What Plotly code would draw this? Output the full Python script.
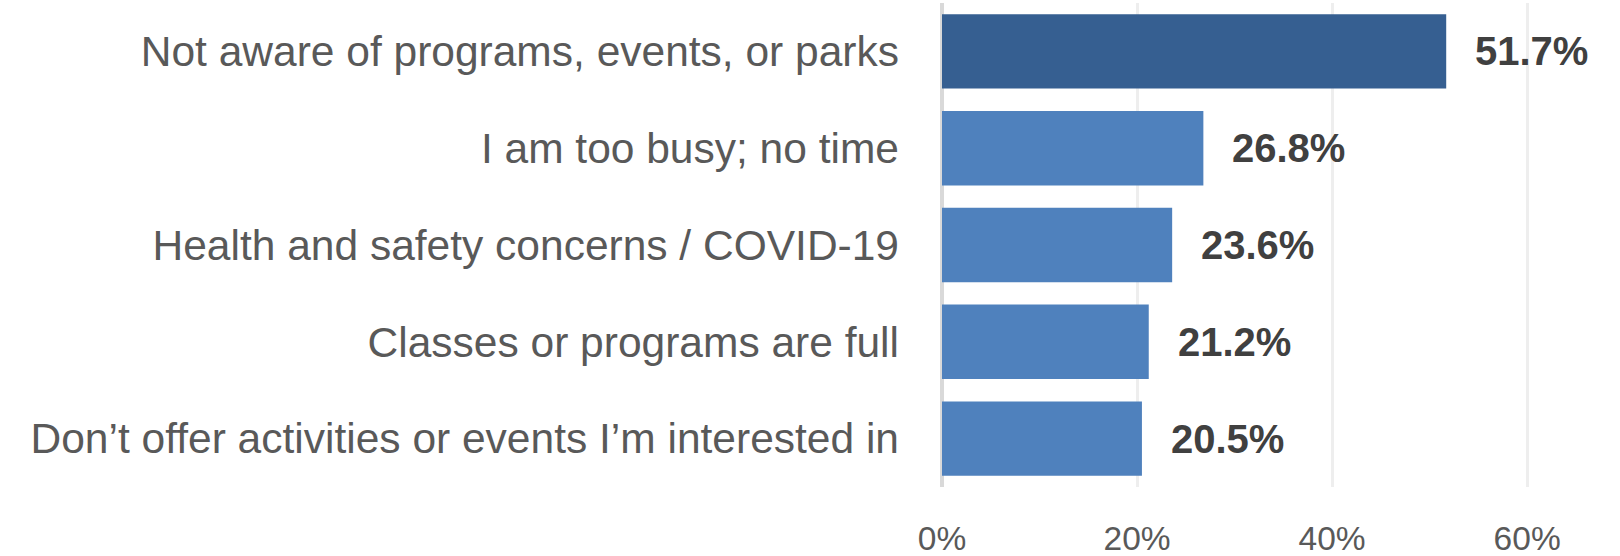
import plotly.graph_objects as go

categories = [
    "Not aware of programs, events, or parks",
    "I am too busy; no time",
    "Health and safety concerns / COVID-19",
    "Classes or programs are full",
    "Don\u2019t offer activities or events I\u2019m interested in",
]
values = [0.517, 0.268, 0.236, 0.212, 0.205]
bar_colors = ["#365F91", "#4F81BD", "#4F81BD", "#4F81BD", "#4F81BD"]
tick_vals = [0, 0.2, 0.4, 0.6]
tick_text = ["0%", "20%", "40%", "60%"]

FONT = "Liberation Sans, Arial, sans-serif"

fig = go.Figure(go.Bar(
    y=categories,
    x=values,
    orientation="h",
    marker=dict(color=bar_colors, line=dict(width=0)),
    hovertemplate="%{y}: %{x:.1%}<extra></extra>",
))

# value labels to the right of each bar
for cat, val in zip(categories, values):
    fig.add_annotation(
        x=val, y=cat,
        text=f"<b>{val * 100:.1f}%</b>",
        showarrow=False,
        xanchor="left",
        xshift=27,
        font=dict(family=FONT, size=40, color="#404040"),
    )

fig.update_layout(
    width=1620,
    height=556,
    margin=dict(l=942, r=8, t=3, b=69),
    plot_bgcolor="white",
    paper_bgcolor="white",
    bargap=0.231,
    showlegend=False,
    font=dict(family=FONT, color="#595959"),
)

fig.update_xaxes(
    range=[0, 0.687],
    tickvals=tick_vals,
    ticktext=tick_text,
    showgrid=True,
    gridcolor="#EEEEEE",
    gridwidth=3,
    zeroline=True,
    zerolinecolor="#D9D9D9",
    zerolinewidth=4,
    showline=False,
    tickfont=dict(size=33.5, color="#595959"),
    ticklabelstandoff=28,
    automargin=False,
)

fig.update_yaxes(
    autorange="reversed",
    showgrid=False,
    tickfont=dict(size=42.5, color="#595959"),
    ticklabelstandoff=42,
    automargin=False,
)

# drop the default 8px body margin so the figure fills the window exactly
fig.write_html(
    "out.html",
    config={"displayModeBar": False},
    post_script="document.body.style.margin = '0';",
)
